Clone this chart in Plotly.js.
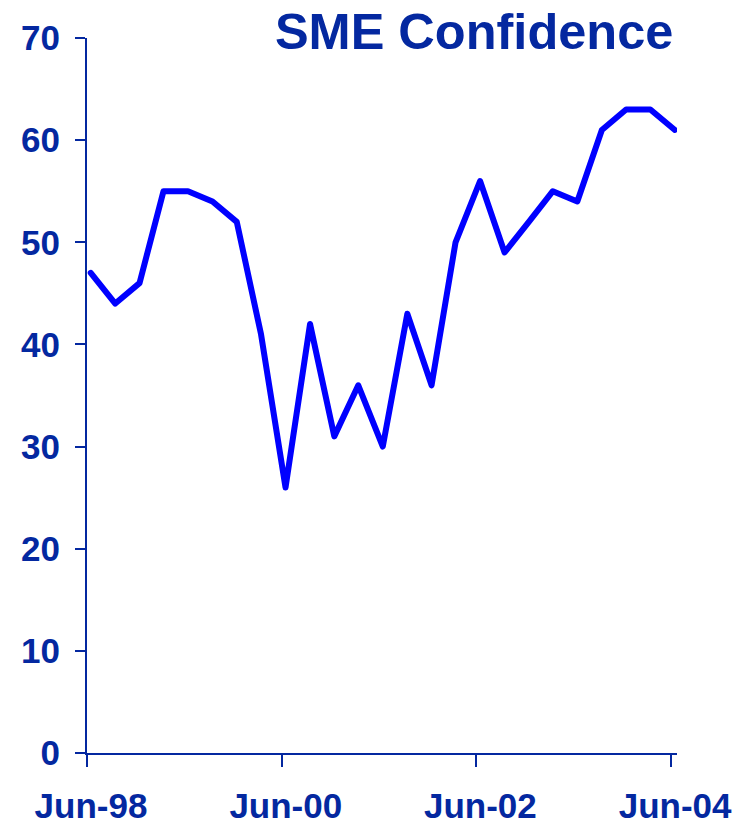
<!DOCTYPE html>
<html>
<head>
<meta charset="utf-8">
<script src="https://cdn.plot.ly/plotly-3.0.1.min.js"></script>
<style>
  html, body { margin: 0; padding: 0; background: #ffffff; }
  #chart { width: 749px; height: 824px; }
  /* rounded joins on the confidence line */
  #chart .scatterlayer .js-line { stroke-linejoin: round !important; stroke-linecap: round !important; }
</style>
</head>
<body>
<div id="chart"></div>
<script>
// Quarterly survey dates (mid-month readings)
const surveyDates = [
  '1998-06-15', '1998-09-15', '1998-12-15', '1999-03-15',
  '1999-06-15', '1999-09-15', '1999-12-15', '2000-03-15',
  '2000-06-15', '2000-09-15', '2000-12-15', '2001-03-15',
  '2001-06-15', '2001-09-15', '2001-12-15', '2002-03-15',
  '2002-06-15', '2002-09-15', '2002-12-15', '2003-03-15',
  '2003-06-15', '2003-09-15', '2003-12-15', '2004-03-15',
  '2004-06-15'
];

// SME confidence index
const confidence = [
  47, 44, 46, 55, 55, 54, 52, 41,
  26, 42, 31, 36, 30, 43, 36, 50,
  56, 49, 52, 55, 54, 61, 63, 63,
  61
];

// Axis ticks
const xTickDates = ['1998-06-01', '2000-06-01', '2002-06-01', '2004-06-01'];
const xTickLabels = ['Jun-98', 'Jun-00', 'Jun-02', 'Jun-04'];
const yTickValues = [0, 10, 20, 30, 40, 50, 60, 70];

const navy = '#0428A0';
const fontFamily = 'Arial, "Liberation Sans", sans-serif';

const trace = {
  type: 'scatter',
  mode: 'lines',
  x: surveyDates,
  y: confidence,
  line: { color: '#0000FF', width: 6 },
  hoverinfo: 'x+y'
};

const layout = {
  width: 749,
  height: 824,
  margin: { l: 87, r: 72, t: 38, b: 71, pad: 0 },
  paper_bgcolor: '#ffffff',
  plot_bgcolor: '#ffffff',
  showlegend: false,
  font: { family: fontFamily, color: navy },
  title: {
    text: '<b>SME Confidence</b>',
    font: { family: fontFamily, size: 50.5, color: navy },
    xref: 'container', x: 0.899, xanchor: 'right',
    yref: 'container', y: 0.962, yanchor: 'middle'
  },
  xaxis: {
    type: 'date',
    range: ['1998-06-01', '2004-06-23'],
    tickmode: 'array',
    tickvals: xTickDates,
    ticktext: xTickLabels,
    ticks: 'outside', ticklen: 12, tickwidth: 2, tickcolor: navy,
    showline: true, linecolor: navy, linewidth: 2,
    showgrid: false, zeroline: false,
    ticklabelshift: 4,
    ticklabelstandoff: 9,
    tickfont: { family: fontFamily, size: 35, color: navy, weight: 'bold' }
  },
  yaxis: {
    range: [0, 70],
    tickmode: 'array',
    tickvals: yTickValues,
    ticks: 'outside', ticklen: 10, tickwidth: 2, tickcolor: navy,
    showline: true, linecolor: navy, linewidth: 2,
    showgrid: false, zeroline: false,
    ticklabelstandoff: 8,
    tickfont: { family: fontFamily, size: 35, color: navy, weight: 'bold' }
  }
};

Plotly.newPlot('chart', [trace], layout, { staticPlot: true, displayModeBar: false });
</script>
</body>
</html>
